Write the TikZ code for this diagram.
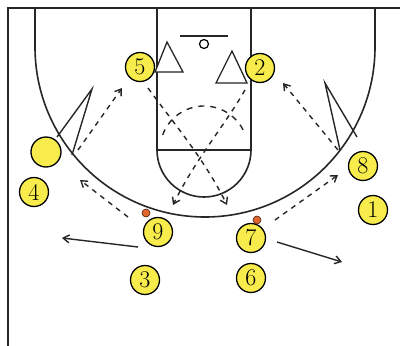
\documentclass[tikz,border=0pt]{standalone}
\usetikzlibrary{arrows.meta}
\definecolor{pyellow}{HTML}{F7EC4C}
\definecolor{ballc}{HTML}{E0662E}
\begin{document}
\begin{tikzpicture}[x=1pt,y=-1pt,
  court/.style={line width=1.6pt, draw=black!85},
  player/.style={circle, draw=black, line width=1.3pt, fill=pyellow, minimum size=29pt, inner sep=0pt, font=\fontsize{24}{24}\selectfont},
  ball/.style={circle, draw=black!70!ballc, line width=0.6pt, fill=ballc, minimum size=8pt, inner sep=0pt},
  defender/.style={draw=black!85, line width=1.3pt, fill=white, line join=miter},
  pass/.style={line width=1.4pt, draw=black!85, dash pattern=on 5pt off 5pt, -{Straight Barb[length=6pt,width=8pt]}},
  move/.style={line width=1.4pt, draw=black!85, -{Straight Barb[length=6pt,width=8pt]}},
  cut/.style={line width=1.4pt, draw=black!85}]
\useasboundingbox (0,0) rectangle (400,346);
% frame
\draw[court, line width=2pt] (8,346) -- (8,8) -- (400,8);
% three point line
\draw[court] (35,8) -- (35,47) arc[start angle=180, end angle=0, radius=170] -- (375,8);
% lane
\draw[court] (157,8) -- (157,150) -- (251,150) -- (251,8);
% free throw circle
\draw[court] (157,150) arc[start angle=180, end angle=0, radius=47];
\draw[line width=1.4pt, draw=black!85, dash pattern=on 6pt off 6pt] (204,150) ++(200:44) arc[start angle=200, end angle=340, radius=44];
% backboard and rim
\draw[court] (180,36) -- (228,36);
\draw[line width=1.2pt] (204,44) circle[radius=4.5];
% defenders
\draw[defender] (167,42) -- (155,72) -- (183,72) -- cycle;
\draw[defender] (232,51) -- (216,83) -- (247,83) -- cycle;
% cuts (V)
\coordinate (lva) at (92,89);
\coordinate (lvb) at (57,137);
\coordinate (lvc) at (72,155);
\draw[cut] (lvb) -- (lva) -- (lvc);
\coordinate (rva) at (325,83);
\coordinate (rvb) at (340,150);
\coordinate (rvc) at (357,137);
\draw[cut] (rvc) -- (rva) -- (rvb);
% players
\node[player] (p5) at (140,67) {5};
\node[player] (p2) at (260,68) {2};
\node[player, minimum size=30pt] (p0) at (46,152) {};
\node[player] (p4) at (34,192) {4};
\node[player] (p9) at (158,232) {9};
\node[player] (p3) at (145,280) {3};
\node[player] (p7) at (251,238) {7};
\node[player] (p6) at (251,278) {6};
\node[player] (p8) at (363,166) {8};
\node[player] (p1) at (373,210) {1};
% balls
\node[ball] (b9) at (146,213) {};
\node[ball] (b7) at (257,220) {};
% passes / movements
\coordinate (a1s) at (78,150);
\coordinate (a1e) at (122,88);
\draw[pass] (a1s) -- (a1e);
\coordinate (a2s) at (128,217);
\coordinate (a2e) at (80,180);
\draw[pass] (a2s) -- (a2e);
\coordinate (a3s) at (138,247);
\coordinate (a3e) at (62,238);
\draw[move] (a3s) -- (a3e);
\coordinate (a4s) at (275,220);
\coordinate (a4e) at (338,175);
\draw[pass] (a4s) -- (a4e);
\coordinate (a5s) at (277,242);
\coordinate (a5e) at (342,262);
\draw[move] (a5s) -- (a5e);
\coordinate (a6s) at (338,150);
\coordinate (a6e) at (283,83);
\draw[pass] (a6s) -- (a6e);
\coordinate (a7s) at (148,88);
\coordinate (a7e) at (227,205);
\draw[pass] (a7s) .. controls (175,125) and (205,160) .. (a7e);
\coordinate (a8s) at (245,90);
\coordinate (a8e) at (173,205);
\draw[pass] (a8s) .. controls (225,125) and (195,160) .. (a8e);
\end{tikzpicture}
\end{document}
